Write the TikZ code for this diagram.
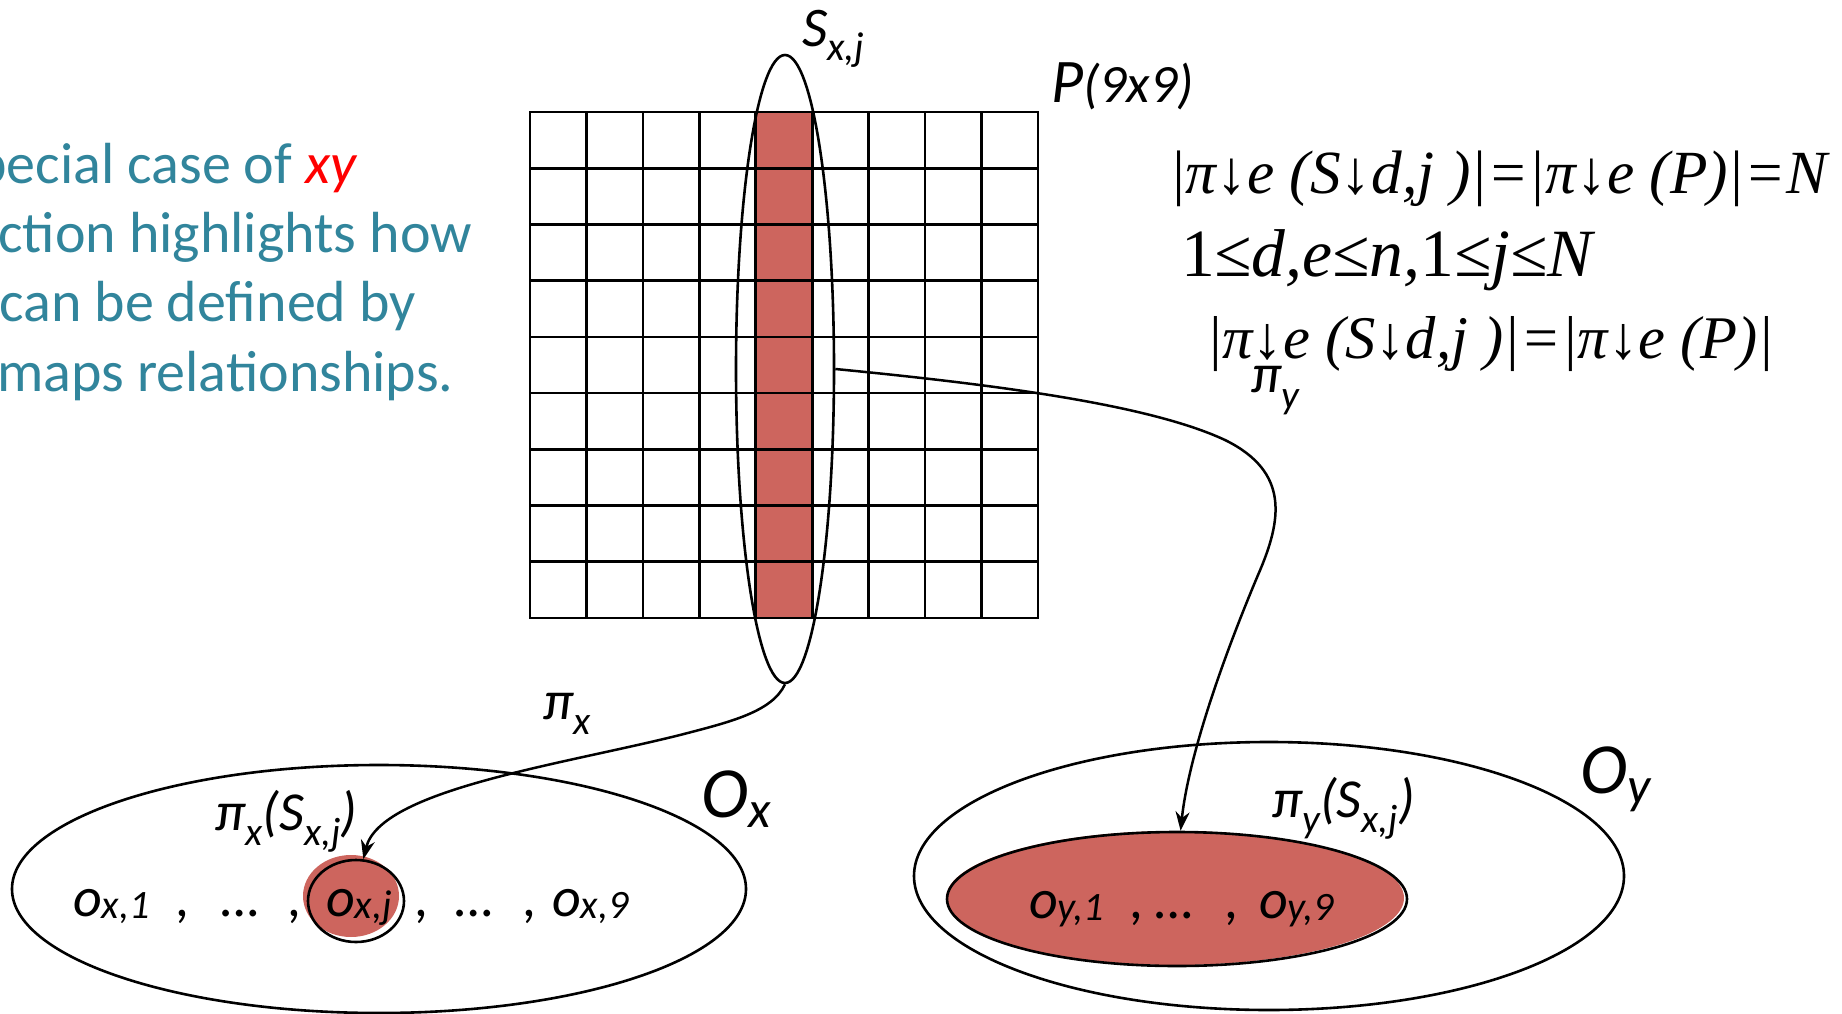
\documentclass[tikz,border=0pt]{standalone}
\usepackage{fontspec}
\setmainfont{Carlito}
\newfontfamily\cmb{Liberation Serif}
\usepackage{graphicx}
\usetikzlibrary{shapes.geometric,arrows.meta}
\definecolor{cellred}{RGB}{205,101,94}
\definecolor{bodyteal}{RGB}{49,133,156}
\definecolor{hotred}{RGB}{255,0,0}
\newcommand{\sbs}[3][0.28em]{#2\raisebox{-#1}{\scalebox{0.72}{#3}}}
\newcommand{\fsz}[1]{\fontsize{#1}{#1}\selectfont}
\begin{document}
\begin{tikzpicture}[x=1pt,y=-1pt,
  lw/.style={line width=2.6pt},
  blob/.style={ellipse, draw, line width=2.6pt, inner sep=0pt},
  arr/.style={line width=2.5pt, -{Stealth[length=19pt,width=14pt]}},
  txt/.style={inner sep=0pt, outer sep=0pt, anchor=base west, font=\itshape},
  frm/.style={inner sep=0pt, outer sep=0pt, anchor=west}]
\useasboundingbox (0,0) rectangle (1842,1014);
\clip (0,0) rectangle (1842,1014);

% left text (clipped at the left edge)
\begin{scope}[every node/.style={inner sep=0pt, anchor=base west, text=bodyteal, font=\fsz{58}}]
\node (t1) at (-24,183) {pecial case of \textcolor{hotred}{\itshape xy}};
\node (t2) at (-2,252) {ction highlights how};
\node (t3) at (-1,321) {can be defined by};
\node (t4) at (-3,391) {maps relationships.};
\end{scope}

% grid P
\fill[cellred] (755.8,112) rectangle (812.2,618);
\foreach \i in {0,...,9}{
  \draw[lw, line cap=rect] ({530+\i*56.444},112) -- ({530+\i*56.444},618);
  \draw[lw, line cap=rect] (530,{112+\i*56.222}) -- (1038,{112+\i*56.222});
}
\node[blob, minimum width=98pt, minimum height=628pt] (S) at (785,369) {};
\node[txt, font=\itshape\fsz{56}] (Slab) at (802,47) {\sbs[0.25em]{S}{x,j}};
\node[txt] (Plab) at (1051,103) {\fsz{62}P\fsz{54}(9x9)};

% formulas
\node[frm] (f1) at (1169,179) {\resizebox{658pt}{!}{\cmb\itshape |π↓e (S↓d,j )|=|π↓e (P)|=N}};
\node[inner sep=0pt, outer sep=0pt, anchor=base west] (f2) at (1181,276) {\resizebox{411pt}{!}{\cmb 1\itshape≤d,e≤n,\upshape 1\itshape≤j≤N}};
\node[frm] (f3) at (1206,344) {\resizebox{568pt}{!}{\cmb\itshape |π↓e (S↓d,j )|=|π↓e (P)|}};

% O_x set
\node[blob, minimum width=734pt, minimum height=248pt] (Ox) at (379,889) {};
\fill[cellred] (351,896) ellipse [x radius=48, y radius=41];
\node[blob, minimum width=96pt, minimum height=82pt] (oxj) at (356,901) {};
\begin{scope}[every node/.style={txt, font=\itshape\fsz{56}}]
\node (ox1) at (73,916) {\sbs[0.05em]{o}{x,1}};
\node (c1) at (176,916) {,};
\node (e1) at (221,916) {…};
\node (c2) at (288,916) {,};
\node (oxjt) at (326,916) {\sbs[0.05em]{o}{x,j}};
\node (c3) at (415,916) {,};
\node (e2) at (455,916) {…};
\node (c4) at (523,916) {,};
\node (ox9) at (552,916) {\sbs[0.05em]{o}{x,9}};
\end{scope}
\node[txt, font=\itshape\fsz{55}] (pixS) at (215,830) {\sbs{π}{x}(\sbs{S}{x,j})};
\node[txt, font=\itshape\fsz{72}] (Oxl) at (701,817) {\sbs[0.15em]{O}{x}};

% O_y set
\node[blob, minimum width=710pt, minimum height=268pt] (Oy) at (1269,876) {};
\fill[cellred] (1175,898) ellipse [x radius=229, y radius=67];
\node[blob, minimum width=460pt, minimum height=134pt] (oy) at (1177,899) {};
\begin{scope}[every node/.style={txt, font=\itshape\fsz{56}}]
\node (oy1) at (1029,918) {\sbs[0.05em]{o}{y,1}};
\node (c5) at (1130,918) {,};
\node (e3) at (1155,918) {…};
\node (c6) at (1225,918) {,};
\node (oy9) at (1259,918) {\sbs[0.05em]{o}{y,9}};
\end{scope}
\node[txt, font=\itshape\fsz{55}] (piyS) at (1272,817) {\sbs{π}{y}(\sbs{S}{x,j})};
\node[txt, font=\itshape\fsz{72}] (Oyl) at (1580,793) {\sbs[0.15em]{O}{y}};

% projection labels
\node[txt, font=\itshape\fsz{55}] (pix) at (543,719) {\sbs[0.28em]{π}{x}};
\node[txt, font=\itshape\fsz{55}] (piy) at (1251,392) {\sbs[0.3em]{π}{y}};

% arrows
\draw[arr] (S.south) .. controls (772,712) and (730,722) .. (680,735)
  .. controls (560,765) and (380,790) .. (oxj.80);
\draw[arr] (S.east) .. controls (1000,385) and (1150,405) .. (1225,440)
  .. controls (1290,472) and (1282,520) .. (1258,575)
  .. controls (1220,665) and (1188,760) .. (oy.87);
\end{tikzpicture}
\end{document}
